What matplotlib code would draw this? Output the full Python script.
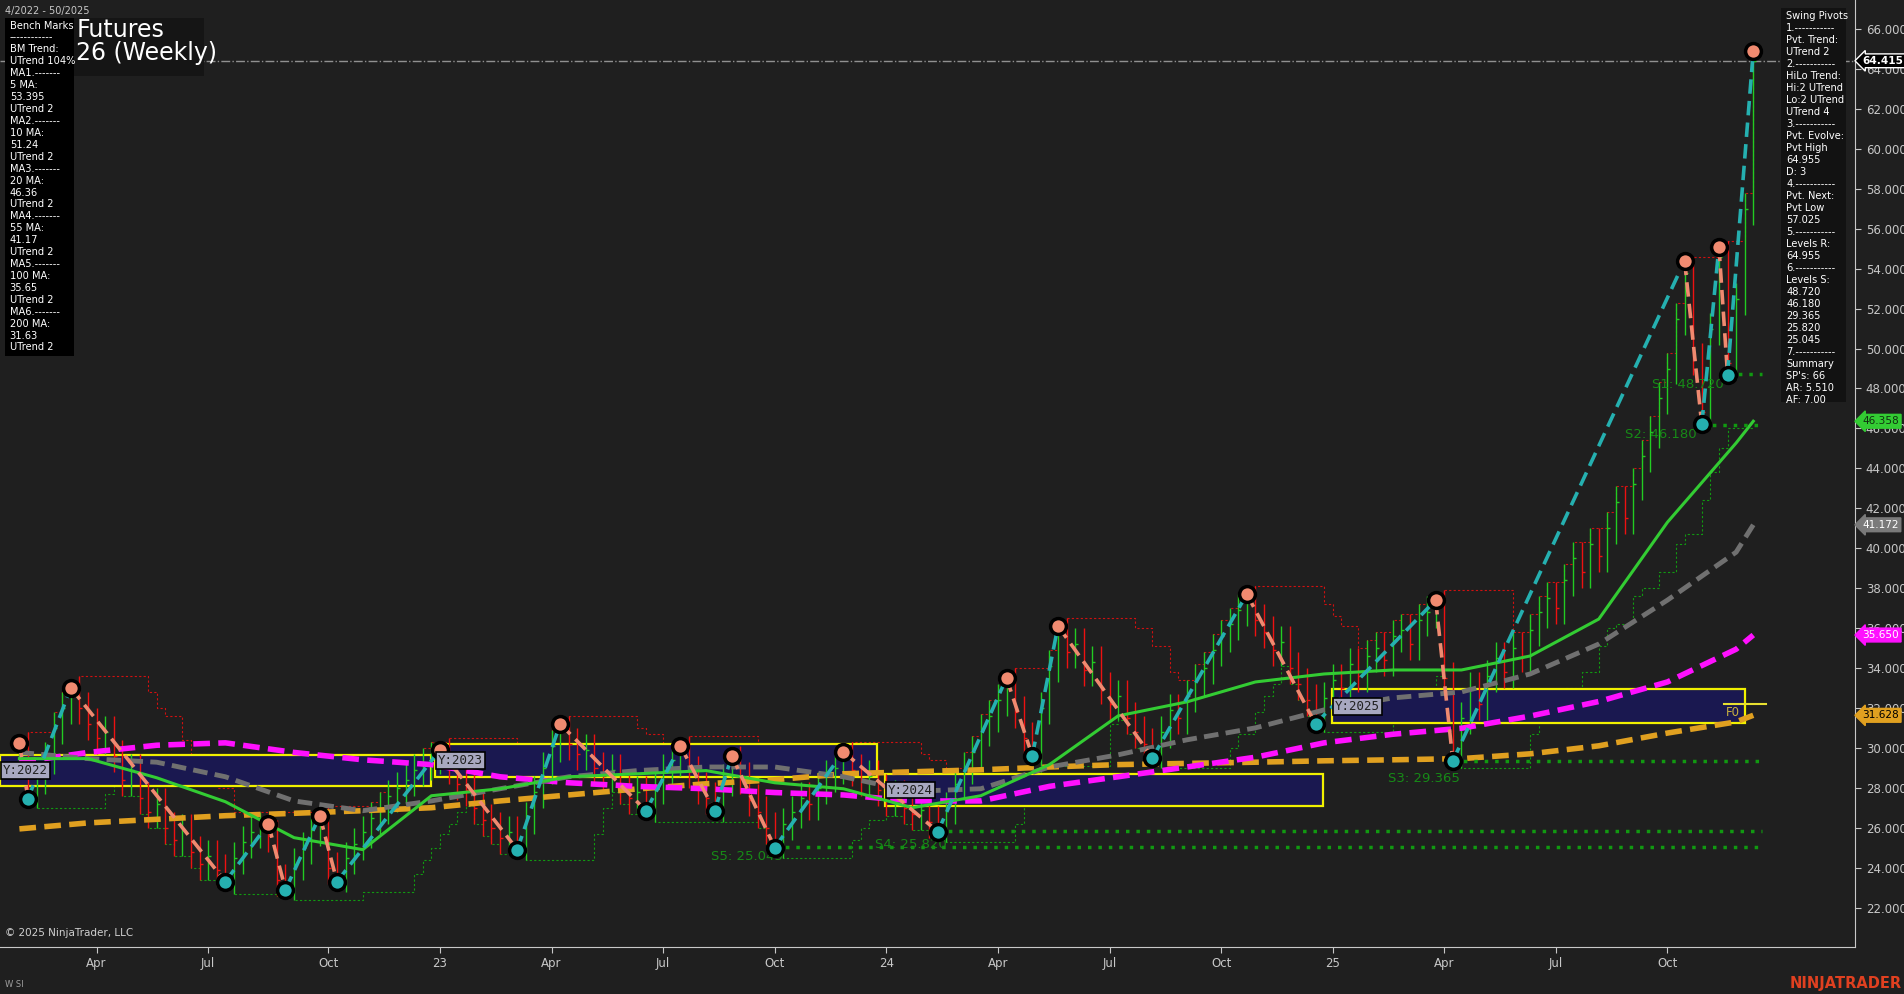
import matplotlib.pyplot as plt
import numpy as np
import pandas as pd
from matplotlib.patches import Rectangle

# weekly closes, week 4/2022 (i=0) .. week 50/2025 (i=202)
closes = [30.0, 27.8,
          28.5, 29.5, 31.0, 32.0, 32.8,
          32.0, 31.2, 30.5, 30.8, 29.6, 28.4, 28.9, 27.5, 26.8, 27.2, 26.0, 25.4, 25.9, 24.8, 24.2, 24.6, 23.9, 23.5,
          24.5, 25.3, 25.8, 26.0, 25.6, 23.4, 23.2, 24.2, 25.0, 25.9, 26.3, 24.0, 23.6, 24.5, 25.2, 25.8, 26.5, 27.0,
          27.6, 28.0, 28.4, 28.9, 29.2, 29.5, 29.7,
          29.0, 28.2, 27.9, 27.0, 26.4, 26.0, 25.5, 25.8, 25.2,
          26.5, 27.8, 29.0, 30.1, 30.8,
          30.2, 29.7, 29.9, 29.0, 28.6, 28.9, 28.0, 27.5, 27.8, 27.1,
          28.0, 28.9, 29.4, 29.8,
          28.8, 28.0, 27.5, 27.1,
          28.4, 29.3,
          28.5, 27.4, 26.8, 26.0, 25.3,
          26.2, 26.8, 27.5, 27.2, 28.0, 28.6, 29.0, 29.5,
          28.9, 28.4, 28.6, 27.9, 27.4, 27.6, 27.0, 26.7, 26.9, 26.3, 26.1,
          27.0, 28.2, 29.0, 29.8, 30.9, 31.6, 32.4, 33.2,
          31.8, 30.5, 29.9,
          32.0, 34.1, 35.7,
          34.8, 35.2, 33.9, 34.3, 33.0, 32.2, 32.6, 31.5, 30.8, 30.2, 29.8,
          30.8, 31.9, 31.5, 32.6, 33.4, 34.0, 34.9, 35.6, 36.2, 36.9, 37.3,
          36.4, 35.8, 34.9, 35.3, 34.0, 33.2, 32.4, 31.6,
          32.5, 33.4, 33.0, 34.2, 33.6, 34.6, 35.0, 34.4, 35.6, 35.9, 35.2, 36.4, 36.8, 37.1,
          33.5, 29.8,
          31.5, 33.0, 32.2, 33.6, 34.5, 33.8, 35.0, 34.6, 35.9, 36.8, 37.5, 37.0, 38.4, 39.5, 38.8, 40.2, 39.6,
          41.0, 42.3, 41.5, 43.2, 44.6, 45.8, 47.5, 49.0, 51.5, 53.8,
          49.5, 46.8, 51.0, 54.6, 49.3, 52.5, 57.0, 64.415]

piv_i = [0, 1, 6, 24, 29, 31, 35, 37, 49, 58, 63, 73, 77, 81, 83, 88, 96, 107, 115, 118, 121,
         132, 143, 151, 165, 167, 194, 196, 198, 199, 202]
piv_v = [30.25, 27.45, 33.0, 23.3, 26.2, 22.9, 26.6, 23.3, 29.9, 24.9, 31.2, 26.85, 30.1, 26.85, 29.6,
         25.0, 29.8, 25.8, 33.5, 29.6, 36.1, 29.5, 37.7, 31.2, 37.4, 29.35, 54.4, 46.2, 55.1, 48.7, 64.9]

ma_i = [0, 8, 16, 24, 32, 40, 48, 56, 64, 72, 80, 88, 96, 104, 112, 120, 128, 136, 144, 152, 160,
        168, 176, 184, 192, 200, 202]
ma20 = [29.46, 29.46, 28.5, 27.3, 25.5, 24.9, 27.6, 27.95, 28.55, 28.7, 28.86, 28.25, 27.95, 27.0, 27.6,
        29.16, 31.6, 32.3, 33.3, 33.7, 33.9, 33.9, 34.6, 36.45, 41.3, 45.27, 46.36]
ma55 = [29.77, 29.46, 29.28, 28.55, 27.34, 26.85, 27.34, 27.95, 28.55, 28.86, 29.04, 29.04, 28.55, 27.82,
        27.95, 29.04, 29.65, 30.4, 31.0, 31.9, 32.5, 32.8, 33.7, 35.2, 37.4, 39.8, 41.17]
ma100 = [29.28, 29.77, 30.13, 30.25, 29.77, 29.4, 29.16, 28.55, 28.25, 28.07, 27.95, 27.76, 27.64, 27.34,
         27.34, 28.07, 28.55, 29.04, 29.53, 30.25, 30.68, 30.98, 31.59, 32.32, 33.3, 34.94, 35.65]
ma200 = [25.94, 26.24, 26.42, 26.6, 26.72, 26.85, 27.0, 27.34, 27.64, 27.94, 28.2, 28.4, 28.7, 28.8, 28.9,
         29.04, 29.16, 29.22, 29.28, 29.35, 29.4, 29.46, 29.7, 30.1, 30.74, 31.3, 31.63]

# yearly boxes: label, start week, end week, top, bottom
years = ["Y:2022", "Y:2023", "Y:2024", "Y:2025"]
yr_x0 = [-2.3, 48.4, 100.8, 152.9]
yr_x1 = [48.0, 99.9, 151.9, 201.0]
yr_top = [29.65, 30.2, 28.67, 32.93]
yr_bot = [28.07, 28.55, 27.1, 31.23]

supports = [48.72, 46.18, 29.365, 25.82, 25.045]
sup_start = [199, 196, 167, 107, 88]
sup_names = ["S1", "S2", "S3", "S4", "S5"]

xt_pos = [9, 22, 36, 49, 62, 75, 88, 101, 114, 127, 140, 153, 166, 179, 192]
xt_lab = ["Apr", "Jul", "Oct", "23", "Apr", "Jul", "Oct", "24", "Apr", "Jul", "Oct", "25", "Apr", "Jul", "Oct"]

bench = ["Bench Marks", "------------", "BM Trend:", "UTrend 104%", "MA1.-------", "5 MA:", "53.395",
         "UTrend 2", "MA2.-------", "10 MA:", "51.24", "UTrend 2", "MA3.-------", "20 MA:", "46.36",
         "UTrend 2", "MA4.-------", "55 MA:", "41.17", "UTrend 2", "MA5.-------", "100 MA:", "35.65",
         "UTrend 2", "MA6.-------", "200 MA:", "31.63", "UTrend 2"]
swing = ["Swing Pivots", "1.-----------", "Pvt. Trend:", "UTrend 2", "2.-----------", "HiLo Trend:",
         "Hi:2 UTrend", "Lo:2 UTrend", "UTrend 4", "3.-----------", "Pvt. Evolve:", "Pvt High", "64.955",
         "D: 3", "4.-----------", "Pvt. Next:", "Pvt Low", "57.025", "5.-----------", "Levels R:", "64.955",
         "6.-----------", "Levels S:", "48.720", "46.180", "29.365", "25.820", "25.045", "7.-----------",
         "Summary", "SP's: 66", "AR: 5.510", "AF: 7.00"]

BG = "#1f1f1f"
W, H = 1568.0, 819.0

def fx(px):
    return px / W

def fy(py):
    return 1 - py / H

fig = plt.figure(figsize=(19.04, 9.94), dpi=100, facecolor=BG)
ax = fig.add_axes([0, fy(780), fx(1528), 780 / H], facecolor=BG)
ax.set_xlim(-2.26, 213.9)
ax.set_ylim(20.04, 67.46)

c = np.array(closes)
o = np.concatenate([[c[0]], c[:-1]])
hi = np.maximum(o, c) + 0.8
lo = np.minimum(o, c) - 0.8
for k, v in zip(piv_i, piv_v):
    if v >= max(o[k], c[k]):
        hi[k] = v
    else:
        lo[k] = v
idx = np.arange(len(c))

# channel steps
up = pd.Series(hi).rolling(8, min_periods=1).max().values
dn = pd.Series(lo).rolling(8, min_periods=1).min().values
ax.step(idx, up, where="post", color="#d01010", lw=0.8, ls=(0, (2, 2)))
ax.step(idx, dn, where="post", color="#119911", lw=0.8, ls=(0, (2, 2)))

# yearly boxes
for lab, a, b, t, bt in zip(years, yr_x0, yr_x1, yr_top, yr_bot):
    ax.add_patch(Rectangle((a, bt), b - a, t - bt, facecolor="#1a1850", edgecolor="#f0f000", lw=1.6, zorder=2))
    ax.text(a + 0.4, (t + bt) / 2, lab, family="DejaVu Sans Mono", fontsize=9, color="#202020",
            va="center", ha="left", zorder=9,
            bbox=dict(boxstyle="square,pad=0.15", fc="#a8a8c0", ec="black", lw=1.2))
ax.plot([198.6, 203.5], [32.2, 32.2], color="#e8e030", lw=1.5, zorder=3)
ax.text(198.8, 31.6, "F0", color="#c8b040", fontsize=8.5, zorder=3)

# bars
cols = np.where(c >= o, "#22cc22", "#ee1111")
ax.vlines(idx, lo, hi, colors=cols, lw=1.0, zorder=3)
ax.hlines(c, idx, idx + 0.35, colors=cols, lw=1.0, zorder=3)

# moving averages
ax.plot(ma_i, ma200, color="#e0a020", lw=4, ls=(0, (3, 1.5)), zorder=4)
ax.plot(ma_i, ma100, color="#ff10ff", lw=4, ls=(0, (3, 1.5)), zorder=4)
ax.plot(ma_i, ma55, color="#707070", lw=3.5, ls=(0, (3, 1.5)), zorder=4)
ax.plot(ma_i, ma20, color="#33cc33", lw=2.2, zorder=4)

# supports
for v, s, n in zip(supports, sup_start, sup_names):
    ax.plot([s, 203], [v, v], color="#119911", lw=2.5, ls=(0, (1, 2)), zorder=4)
lbl_pos = {"S1": (190.2, 48.0), "S2": (187.0, 45.5), "S3": (159.5, 28.3), "S4": (99.7, 25.0), "S5": (80.6, 24.4)}
for v, n in zip(supports, sup_names):
    x, y = lbl_pos[n]
    ax.text(x, y, "%s: %.3f" % (n, v), color="#178a17", fontsize=9.5, zorder=5)

# zigzag
for k in range(len(piv_i) - 1):
    up_leg = piv_v[k + 1] > piv_v[k]
    ax.plot(piv_i[k:k + 2], piv_v[k:k + 2], color="#25b0b0" if up_leg else "#f08a70",
            lw=2.6, ls=(0, (4, 2)), zorder=6)
for k, (i, v) in enumerate(zip(piv_i, piv_v)):
    is_high = k % 2 == 0
    ax.scatter(i, v, s=130, color="#f08a70" if is_high else "#25b0b0", edgecolor="black", lw=2.5, zorder=7)

ax.axhline(64.415, color="#909090", lw=1, ls="-.", zorder=1)

# axes styling
for sp in ["top", "left"]:
    ax.spines[sp].set_visible(False)
ax.spines["right"].set_color("#c8c8c8")
ax.spines["bottom"].set_color("#c8c8c8")
ax.yaxis.tick_right()
ax.set_yticks(np.arange(22, 67, 2))
ax.set_yticklabels(["%.3f" % v for v in np.arange(22, 67, 2)])
ax.set_xticks(xt_pos)
ax.set_xticklabels(xt_lab)
ax.tick_params(colors="#c8c8c8", labelsize=8.5, length=4)

# price tags
tags = [(64.415, "#000000", "white", "white"), (46.358, "#33cc33", "#103010", "#33cc33"),
        (41.172, "#7a7a7a", "white", "#7a7a7a"), (35.65, "#ff10ff", "white", "#ff10ff"),
        (31.628, "#e0a020", "black", "#e0a020")]
for v, fc, tc, ec in tags:
    ax.annotate("%.3f" % v, xy=(1.0, v), xycoords=("axes fraction", "data"), xytext=(5, 0),
                textcoords="offset points", va="center", ha="left", color=tc, fontsize=7.6,
                fontweight="bold" if fc == "#000000" else "normal", zorder=10,
                bbox=dict(boxstyle="larrow,pad=0.18", fc=fc, ec=ec, lw=1))

# panels
fig.text(fx(4), fy(9), "4/2022 - 50/2025", color="#c8c8c8", fontsize=7, va="center")
fig.patches.append(Rectangle((fx(4), fy(293)), fx(57), (293 - 15) / H, transform=fig.transFigure,
                             fc="black", ec="none", zorder=5))
fig.text(fx(8), fy(17), "\n".join(bench), color="white", fontsize=7.1, va="top", linespacing=1.24, zorder=6)
fig.patches.append(Rectangle((fx(61), fy(63)), fx(107), 48 / H, transform=fig.transFigure,
                             fc="#151515", ec="none", zorder=5))
fig.text(fx(63), fy(15), "Futures\n26 (Weekly)", color="white", fontsize=17, va="top", linespacing=0.95, zorder=6)
fig.patches.append(Rectangle((fx(1467), fy(331)), fx(53), (331 - 7) / H, transform=fig.transFigure,
                             fc="#121212", ec="none", zorder=5))
fig.text(fx(1471), fy(9), "\n".join(swing), color="white", fontsize=7.1, va="top", linespacing=1.25, zorder=6)

fig.text(fx(4), fy(769), "\u00a9 2025 NinjaTrader, LLC", color="#d0d0d0", fontsize=7.5, va="center")
fig.text(fx(4), fy(811), "W SI", color="#a0a0a0", fontsize=6, va="center")
fig.text(fx(1566), fy(810), "NINJATRADER", color="#e04020", fontsize=10.5, fontweight="bold", ha="right", va="center")

fig.savefig("out.png", dpi=100, facecolor=BG)
